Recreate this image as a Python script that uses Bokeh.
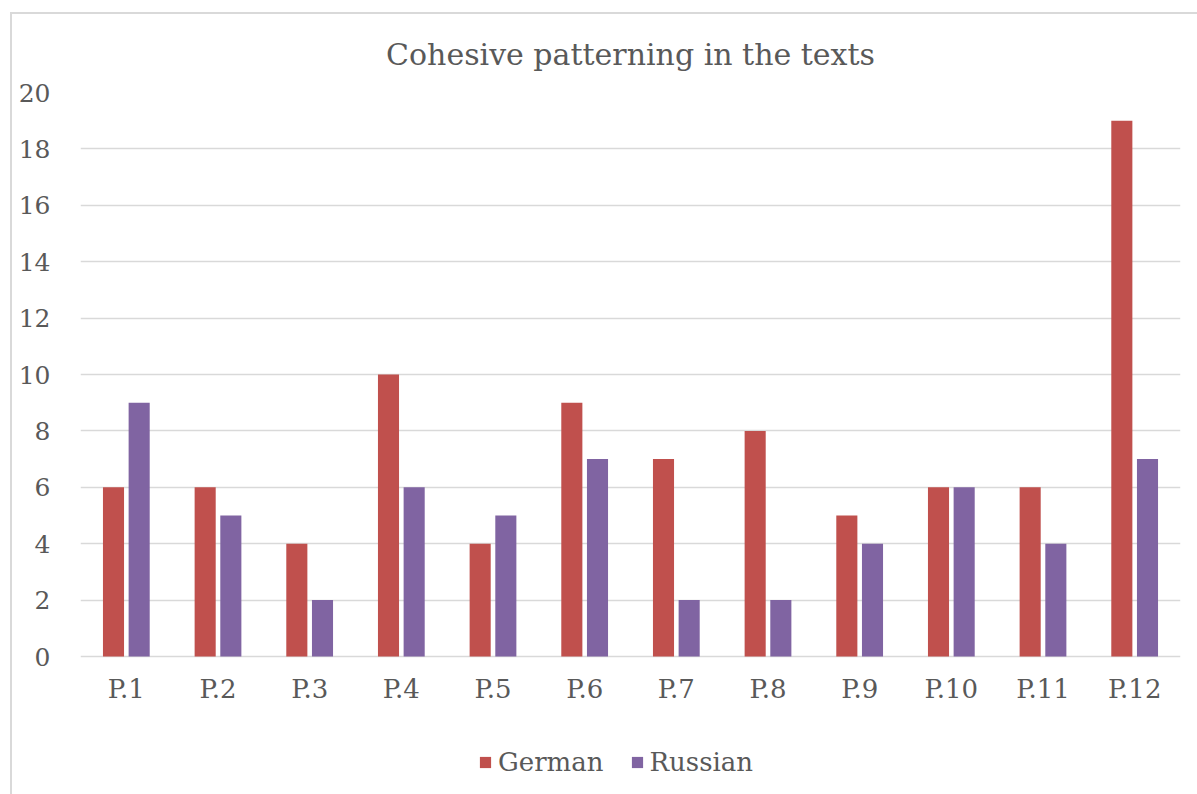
from bokeh.plotting import figure
from bokeh.models import ColumnDataSource, Legend, LegendItem, FactorRange
from bokeh.core.properties import value
from bokeh.transform import dodge
from bokeh.embed import file_html
from bokeh.resources import INLINE

categories = ["P.1", "P.2", "P.3", "P.4", "P.5", "P.6", "P.7", "P.8", "P.9", "P.10", "P.11", "P.12"]
german = [6, 6, 4, 10, 4, 9, 7, 8, 5, 6, 6, 19]
russian = [9, 5, 2, 6, 5, 7, 2, 2, 4, 6, 4, 7]
y_ticks = [0, 2, 4, 6, 8, 10, 12, 14, 16, 18, 20]

FONT = "DejaVu Serif"
TXT = "#595959"

src = ColumnDataSource(dict(cat=categories, german=german, russian=russian,
                            base=[0] * len(categories)))

# the frame is extended below zero so the category labels and legend sit inside it
PX_PER_UNIT = 564 / 20
p = figure(x_range=FactorRange(*categories), y_range=(-124 / PX_PER_UNIT, 20),
           frame_width=1100, frame_height=688, output_backend="svg", toolbar_location=None,
           min_border_left=68, min_border_right=17, min_border_top=17, min_border_bottom=14,
           title="Cohesive patterning in the texts")
p.styles = {"margin-left": "10px", "margin-top": "12px",
            "border-left": "2px solid #d9d9d9", "border-top": "2px solid #d9d9d9"}

p.title.align = "center"
p.title.text_font = FONT
p.title.text_font_size = "30px"
p.title.text_font_style = "normal"
p.title.text_color = TXT
p.title.standoff = 41

r1 = p.vbar(x=dodge("cat", -0.14, range=p.x_range), top="german", width=0.23,
            source=src, fill_color="#C0504D", line_color=None)
r2 = p.vbar(x=dodge("cat", 0.14, range=p.x_range), top="russian", width=0.23,
            source=src, fill_color="#8064A2", line_color=None)

# category labels under the zero line
p.text(x="cat", y="base", text="cat", source=src, y_offset=32,
       text_align="center", text_baseline="middle",
       text_font=value(FONT), text_font_size="26px", text_color=TXT)

p.outline_line_color = None
p.xgrid.grid_line_color = None
p.ygrid.grid_line_color = "#d9d9d9"
p.ygrid.grid_line_width = 1.5
p.xaxis.visible = False
p.yaxis.ticker = y_ticks
p.yaxis.axis_line_color = None
p.yaxis.major_tick_line_color = None
p.yaxis.minor_tick_line_color = None
p.yaxis.major_label_standoff = 24
p.yaxis.major_label_text_font = FONT
p.yaxis.major_label_text_font_size = "25px"
p.yaxis.major_label_text_color = TXT

legend = Legend(items=[LegendItem(label="German", renderers=[r1]),
                       LegendItem(label="Russian", renderers=[r2])],
                orientation="horizontal", location=(398, 3),
                label_text_font=FONT, label_text_font_size="26px", label_text_color=TXT,
                glyph_width=14, glyph_height=14, spacing=26, label_standoff=6,
                border_line_color=None, background_fill_alpha=0, margin=0, padding=0)
p.add_layout(legend, "center")

open("out.html", "w").write(file_html(p, INLINE))
